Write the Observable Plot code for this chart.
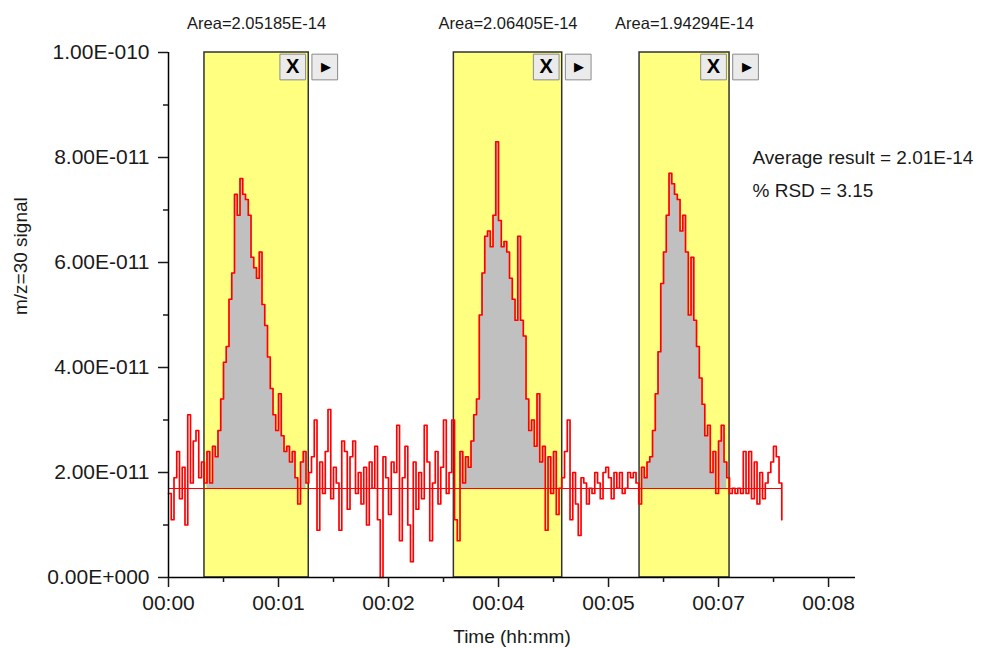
<!DOCTYPE html>
<html><head><meta charset="utf-8">
<script src="https://cdn.jsdelivr.net/npm/d3@7"></script>
<script src="https://cdn.jsdelivr.net/npm/@observablehq/plot@0.6"></script>
<style>body{margin:0;background:#fff}</style>
</head><body><div id="chart"></div>
<script>
// x in major-tick units (one unit per labelled tick), y in units of 1e-11
const tickValuesX = [0, 1, 2, 3, 4, 5, 6];
const tickLabelsX = ["00:00", "00:01", "00:02", "00:04", "00:05", "00:07", "00:08"];
const minorTicksX = [0.5, 1.5, 2.5, 3.5, 4.5, 5.5];
const tickValuesY = [0, 2, 4, 6, 8, 10];
const tickLabelsY = ["0.00E+000", "2.00E-011", "4.00E-011", "6.00E-011", "8.00E-011", "1.00E-010"];
const minorTicksY = [1, 3, 5, 7, 9];

const baseline = 1.695;
const windowStart = [0.327, 2.594, 4.282];
const windowEnd = [1.275, 3.579, 5.1];
const areaLabels = ["Area=2.05185E-14", "Area=2.06405E-14", "Area=1.94294E-14"];
const noteLines = ["Average result = 2.01E-14", "% RSD = 3.15"];
const xTitle = "Time (hh:mm)";
const yTitle = "m/z=30 signal";

const xStep = 0.025;
const signal = [
  1.6, 1.1, 1.9, 2.4, 1.5, 2.1, 1.0, 3.1, 1.8, 2.6, 2.8, 1.9, 2.2, 1.8,
  2.4, 1.8, 2.5, 2.3, 2.8, 3.4, 4.1, 4.4, 5.3, 5.8, 7.3, 6.9, 7.6, 7.3,
  7.2, 6.9, 6.1, 5.9, 5.7, 6.2, 5.2, 4.8, 4.2, 3.6, 3.1, 2.8, 3.5, 2.7, 2.4, 2.5, 2.2, 2.4, 1.9, 1.4, 2.2, 2.4, 1.8, 2.0,
  2.3, 3.0, 0.9, 2.2, 1.6, 2.4, 3.2, 1.5, 2.1, 1.8, 0.9, 2.6, 2.4, 1.3, 2.3, 2.6, 1.6, 2.0, 1.4, 2.1, 1.0, 2.2, 1.7, 2.5,
  1.1, 0.0, 2.3, 1.9, 1.2, 2.2, 2.0, 2.9, 0.7, 1.9, 2.5, 1.0, 0.3, 2.2, 1.3, 2.0, 1.5, 2.9, 2.2, 0.7, 1.8, 2.4, 1.4, 2.1,
  3.0, 1.6, 2.0, 3.0, 1.1,
  0.7, 2.4, 1.8, 2.3, 2.1, 2.6, 3.1, 3.4, 5.0, 5.8, 6.5, 6.6, 6.3, 6.9, 8.3, 6.8, 6.3, 6.4, 6.2, 5.7, 5.3, 4.9, 6.5, 4.9,
  4.6, 3.4, 2.8, 3.0, 2.5, 3.5, 2.2, 2.5, 0.9, 2.3, 1.6, 2.4, 1.2, 1.7, 1.9,
  2.4, 3.0, 1.1, 2.0, 1.4, 0.8, 1.9, 1.8, 1.4, 1.7, 1.6, 2.0, 1.8, 1.5, 2.0, 2.1, 1.9, 1.5, 2.0, 1.7, 2.0, 1.6, 1.7, 2.0,
  1.9, 2.0, 1.8, 1.4,
  2.1, 1.9, 2.2, 2.3, 2.8, 3.5, 4.3, 5.6, 6.2, 6.9, 7.7, 7.5, 7.3, 7.2, 6.6, 6.9, 6.2, 5.0, 6.1, 4.9, 4.4, 3.8, 3.3, 2.7,
  2.9, 2.0, 2.4, 1.6, 2.6, 2.9, 2.2, 1.9, 1.6,
  1.7, 1.6, 1.7, 1.6, 2.4, 1.6, 2.4, 1.5, 2.2, 1.4, 2.0, 1.5, 1.8, 2.0, 2.2, 2.5, 2.3, 1.8, 1.1
];

const data = signal.map((v, i) => ({x: i * xStep, v}));
const windows = windowStart.map((s, i) => ({start: s, end: windowEnd[i], label: areaLabels[i]}));
const fillData = windows.flatMap((w, k) =>
  data.filter(d => d.x >= w.start && d.x <= w.end).map(d => ({x: d.x, k, top: Math.max(d.v, baseline)})));
const xLast = data[data.length - 1].x;

const font = "'Liberation Sans', Arial, sans-serif";
const ink = "#1a1a1a";

const chart = Plot.plot({
  width: 982,
  height: 648,
  marginLeft: 168,
  marginRight: 127,
  marginTop: 52,
  marginBottom: 71,
  x: {domain: [0, 6.245], axis: null, label: null},
  y: {domain: [0, 10], axis: null, label: null},
  style: {fontFamily: font, background: "#fff", color: ink},
  marks: [
    Plot.rect(windows, {x1: "start", x2: "end", y1: 0, y2: 10, fill: "#ffff80"}),
    Plot.areaY(fillData, {x: "x", y1: baseline, y2: "top", z: "k", curve: "step-after", fill: "#c0c0c0"}),
    Plot.rect(windows, {x1: "start", x2: "end", y1: 0, y2: 10, fill: "none", stroke: "#333", strokeWidth: 1.5}),
    Plot.line(data, {x: "x", y: "v", curve: "step-after", stroke: "#ff0000", strokeWidth: 1.7}),
    Plot.ruleY([baseline], {x1: 0, x2: xLast, stroke: "#ff0000", strokeWidth: 1}),
    // axes
    Plot.ruleX([0], {stroke: "#000", strokeWidth: 1.5}),
    Plot.ruleY([0], {stroke: "#000", strokeWidth: 1.5}),
    Plot.axisY(tickValuesY, {tickSize: 10, tickPadding: 9, strokeWidth: 1.5, fontSize: 21, fill: ink,
      tickFormat: d => tickLabelsY[tickValuesY.indexOf(d)], label: null}),
    Plot.axisY(minorTicksY, {tickSize: 5, strokeWidth: 1.5, tickFormat: () => "", label: null}),
    Plot.axisX(tickValuesX, {tickSize: 10, tickPadding: 8, strokeWidth: 1.5, fontSize: 21, fill: ink,
      tickFormat: d => tickLabelsX[tickValuesX.indexOf(d)], label: null}),
    Plot.axisX(minorTicksX, {tickSize: 5, strokeWidth: 1.5, tickFormat: () => "", label: null}),
    Plot.text([xTitle], {text: d => d, frameAnchor: "bottom", lineAnchor: "middle", dy: 59, fontSize: 19, fill: ink}),
    Plot.text([yTitle], {text: d => d, frameAnchor: "left", dx: -148, rotate: -90, fontSize: 19, fill: ink}),
    // window annotations
    Plot.text(windows, {x: d => (d.start + d.end) / 2, text: "label", frameAnchor: "top", lineAnchor: "middle", dy: -29, fontSize: 16.5, fill: ink}),
    Plot.dot(windows, {x: "end", frameAnchor: "top", dx: -16, dy: 14.5, symbol: "square", r: 14.5, fill: "#ebebeb", stroke: "#8a8a8a", strokeWidth: 1}),
    Plot.dot(windows, {x: "end", frameAnchor: "top", dx: 16, dy: 14.5, symbol: "square", r: 14.5, fill: "#ebebeb", stroke: "#8a8a8a", strokeWidth: 1}),
    Plot.text(windows, {x: "end", frameAnchor: "top", lineAnchor: "middle", dx: -16, dy: 14.5, text: () => "X", fontWeight: "bold", fontSize: 20, fill: "#000"}),
    Plot.text(windows, {x: "end", frameAnchor: "top", lineAnchor: "middle", dx: 17, dy: 14.5, text: () => "\u25B6", fontSize: 13, fill: "#000"}),
    // result notes
    Plot.text([noteLines.join("\n")], {text: d => d, frameAnchor: "top-right", dx: -103, dy: 117.5, textAnchor: "start", lineAnchor: "middle", lineHeight: 1.74, fontSize: 19, fill: ink})
  ]
});
document.getElementById("chart").appendChild(chart);
</script>
</body></html>
